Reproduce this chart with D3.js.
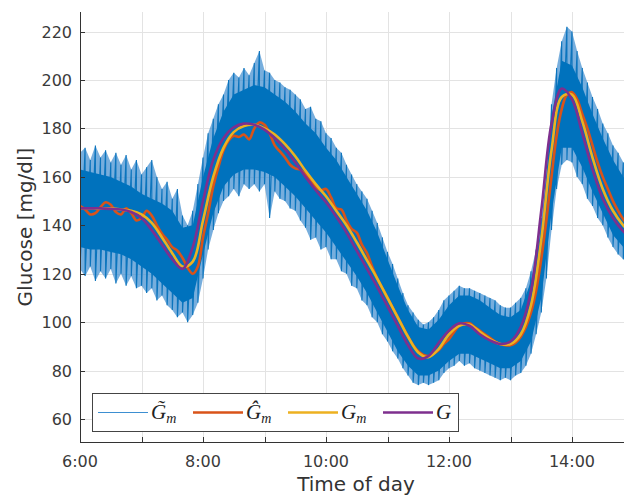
<!DOCTYPE html>
<html><head><meta charset="utf-8">
<script src="https://cdn.jsdelivr.net/npm/d3@7/dist/d3.min.js"></script>
<style>body{margin:0;background:#fff}svg{display:block}</style>
</head><body>
<svg id="c" width="624" height="495"></svg>
<script>
// ---- data (glucose, mg/dl) ----
const yTickValues = [60, 80, 100, 120, 140, 160, 180, 200, 220];
const xTickHours = [7, 8, 9, 10, 11, 12, 13, 14];
const xTickLabels = ["6:00", "8:00", "10:00", "12:00", "14:00"];
const legendLabels = ["G\u0303", "\u011C", "G", "G"];
const legendSubs = ["m", "m", "m", ""];

// sample times, minutes after 6:00
const t10 = d3.range(0, 541, 10);
const t5 = d3.range(0, 541, 5);

// G (true glucose), 10-min samples
const G = [147,147,147,146.8,146.5,145.5,143,138,132,126,122,131,150,167,176,180.5,182,181.5,179.5,176,171.5,166,160,154.5,149.5,143.5,137,129.5,122,114.5,106.5,98.5,90.5,85,86,91.5,96.5,99.5,98.5,95,92.5,91,92,98,113,146,182,196.5,192,178,163,151,143,137.5,134];
// G_m, 10-min samples
const Gm = [147,147,147,147,146.5,146,144.5,141,135,128.5,123,125,142,160,172,178.5,181,181.5,180,177.5,173.5,168.5,162.5,157,152,146,140,133,125.5,118,110,102,94,87.5,85.5,89,95,98.5,99,96,93,91,91,95,107,134,171,193,194,183,168,155,146,140,136];
// Ĝ_m, 5-min samples
const GmHat = [148,146.5,144.5,145,147.5,149.5,148.5,145.5,144.5,147,145,142,143,146,144,140,136.5,134,131,129.5,126.5,122.5,120,123,135,145,156,164,171,175,177,176.5,177.5,175.5,180,182.5,181.5,178,173,170.5,168,165,163.5,163,161,159,156,154.5,155,151.5,147,146.5,142,138.5,137,132,128.5,123,118,114,110,106,102,98,94,90.5,88,86.5,86,87,88.5,91,93,96,98.5,99.5,99.5,98,96.5,95,93.5,92,91,90.5,90.5,91.5,94,98,104,113,126,142,160,177,188,194,195,192,186,180,173,166,160,155,150,146,142.5,140,137];
// G̃_m (noisy measurement) – dense band, 10-min samples
const noiseHi = [163,162,161,160,158,156,153,151,149,146,139,140,160,176,187,194,196,198,197,194,191,187,182,178,172,167,160,153,146,137,126,115,105,98,97,101,107,111,111,109,106,103,102,105,117,138,185,208,206,197,186,176,167,160,155];
const noiseLo = [131,130,130,129,128,126,123,120,116,112,108,110,128,145,156,161,163,163,162,160,156,152,147,142,137,131,125,119,112,104,96,88,82,78,78,80,84,87,87,85,83,81,81,84,92,110,145,172,172,164,154,145,136,131,128];
// G̃_m spike extent, 5-min samples
const spikeHi = [170,172,167,173,168,171,166,170,165,169,163,167,161,164,167,160,155,158,151,155,144,140,146,157,168,178,184,190,194,200,203,201,205,202,207,212,204,203,200,199,197,196,194,192,188,189,184,183,178,176,172,170,165,161,157,154,151,146,141,135,129,124,118,112,107,104,101,99,100,102,105,109,111,113,115,114,114,113,112,111,110,109,107,106,106,108,110,114,121,130,143,160,190,205,216,222,220,212,205,199,193,188,182,178,173,170,166,163,160];
const spikeLo = [122,119,123,117,121,118,122,116,120,115,119,114,115,112,114,109,111,107,105,102,104,100,103,108,118,130,138,145,150,152,155,152,157,155,157,154,157,143,154,151,150,147,146,142,139,134,135,130,131,126,126,121,120,115,114,109,107,102,100,95,92,88,85,81,78,75,74,75,74,75,76,79,81,82,84,82,83,81,80,79,78,77,76,77,76,78,79,82,87,95,104,118,138,155,165,167,166,160,157,151,148,143,140,135,131,128,126,124,122];

// ---- layout ----
const svg = d3.select("#c");
const L = 80, T = 12, B = 442;
const x = d3.scaleLinear().domain([0, 540]).range([L, 633.5]);
const y = d3.scaleLinear().domain([50.5, 228.1]).range([B, T]);

svg.append("defs").append("clipPath").attr("id", "clip")
  .append("rect").attr("x", L).attr("y", T).attr("width", 624 - L).attr("height", B - T);

// grid
const grid = svg.append("g").attr("stroke", "#e3e3e3").attr("stroke-width", 1);
yTickValues.forEach(v => grid.append("line").attr("x1", L).attr("x2", 624)
  .attr("y1", Math.round(y(v)) + 0.5).attr("y2", Math.round(y(v)) + 0.5));
xTickHours.forEach(h => grid.append("line").attr("y1", T).attr("y2", B)
  .attr("x1", Math.round(x((h - 6) * 60)) + 0.5).attr("x2", Math.round(x((h - 6) * 60)) + 0.5));

const plot = svg.append("g").attr("clip-path", "url(#clip)");

const area = (ts, lo, hi) => d3.area().x((d, i) => x(ts[i])).y0((d, i) => y(lo[i])).y1((d, i) => y(hi[i]))(lo);
plot.append("path").attr("d", area(t5, spikeLo, spikeHi)).attr("fill", "#3d8cce").attr("opacity", 0.7);
// spikes: zigzag through the 5-min extremes
let zz = "";
t5.forEach((t, i) => {
  zz += (i === 0 ? "M" : "L") + x(t).toFixed(1) + "," + y(spikeHi[i]).toFixed(1) + "L" + x(t).toFixed(1) + "," + y(spikeLo[i]).toFixed(1);
});
plot.append("path").attr("d", zz).attr("fill", "none").attr("stroke", "#0b74bd").attr("stroke-width", 1.1);
plot.append("path").attr("d", area(t10, noiseLo, noiseHi)).attr("fill", "#0072BD");

const line = (ts, vals) => d3.line().x((d, i) => x(ts[i])).y(d => y(d)).curve(d3.curveCatmullRom)(vals);
plot.append("path").attr("d", line(t5, GmHat)).attr("fill", "none").attr("stroke", "#D95319").attr("stroke-width", 2.6);
plot.append("path").attr("d", line(t10, Gm)).attr("fill", "none").attr("stroke", "#EDB120").attr("stroke-width", 2.6);
plot.append("path").attr("d", line(t10, G)).attr("fill", "none").attr("stroke", "#7E2F8E").attr("stroke-width", 2.6);

// axes
const axCol = "#333";
svg.append("line").attr("x1", L + 0.5).attr("x2", L + 0.5).attr("y1", T).attr("y2", B + 0.5).attr("stroke", axCol);
svg.append("line").attr("x1", L).attr("x2", 624).attr("y1", B + 0.5).attr("y2", B + 0.5).attr("stroke", axCol);
yTickValues.forEach(v => {
  const yy = Math.round(y(v)) + 0.5;
  svg.append("line").attr("x1", L).attr("x2", L + 5).attr("y1", yy).attr("y2", yy).attr("stroke", axCol);
  svg.append("text").attr("x", 72).attr("y", yy).attr("dy", "0.36em").attr("text-anchor", "end")
    .attr("font-family", "DejaVu Sans").attr("font-size", 16).attr("fill", "#3a3a3a").text(v);
});
xTickHours.forEach(h => {
  const xx = Math.round(x((h - 6) * 60)) + 0.5;
  svg.append("line").attr("x1", xx).attr("x2", xx).attr("y1", B).attr("y2", B - 5).attr("stroke", axCol);
});
xTickLabels.forEach((lab, i) => {
  svg.append("text").attr("x", x(i * 120)).attr("y", 467).attr("text-anchor", "middle")
    .attr("font-family", "DejaVu Sans").attr("font-size", 16).attr("fill", "#3a3a3a").text(lab);
});
svg.append("text").attr("x", 356).attr("y", 491).attr("text-anchor", "middle")
  .attr("font-family", "DejaVu Sans").attr("font-size", 20).attr("fill", "#333").text("Time of day");
svg.append("text").attr("transform", "translate(32,227) rotate(-90)").attr("text-anchor", "middle")
  .attr("font-family", "DejaVu Sans").attr("font-size", 20).attr("fill", "#333").text("Glucose [mg/dl]");

// legend
const lg = svg.append("g");
lg.append("rect").attr("x", 92.5).attr("y", 393.5).attr("width", 366).attr("height", 38)
  .attr("fill", "#fff").attr("stroke", "#444").attr("stroke-width", 1);
const legCols = ["#3d8fd1", "#D95319", "#EDB120", "#7E2F8E"];
const legW = [1.2, 2.6, 2.6, 2.6];
const legX = [98, 193, 288, 383];
legX.forEach((lx, i) => {
  lg.append("line").attr("x1", lx).attr("x2", lx + 50).attr("y1", 412.5).attr("y2", 412.5)
    .attr("stroke", legCols[i]).attr("stroke-width", legW[i]);
  const tx = lg.append("text").attr("x", lx + 53).attr("y", 419)
    .attr("font-family", "Liberation Serif").attr("font-style", "italic").attr("font-size", 21).attr("fill", "#222");
  tx.append("tspan").text(legendLabels[i]);
  if (legendSubs[i]) tx.append("tspan").attr("dy", 4).attr("font-size", 14).text(legendSubs[i]);
});
</script>
</body></html>
